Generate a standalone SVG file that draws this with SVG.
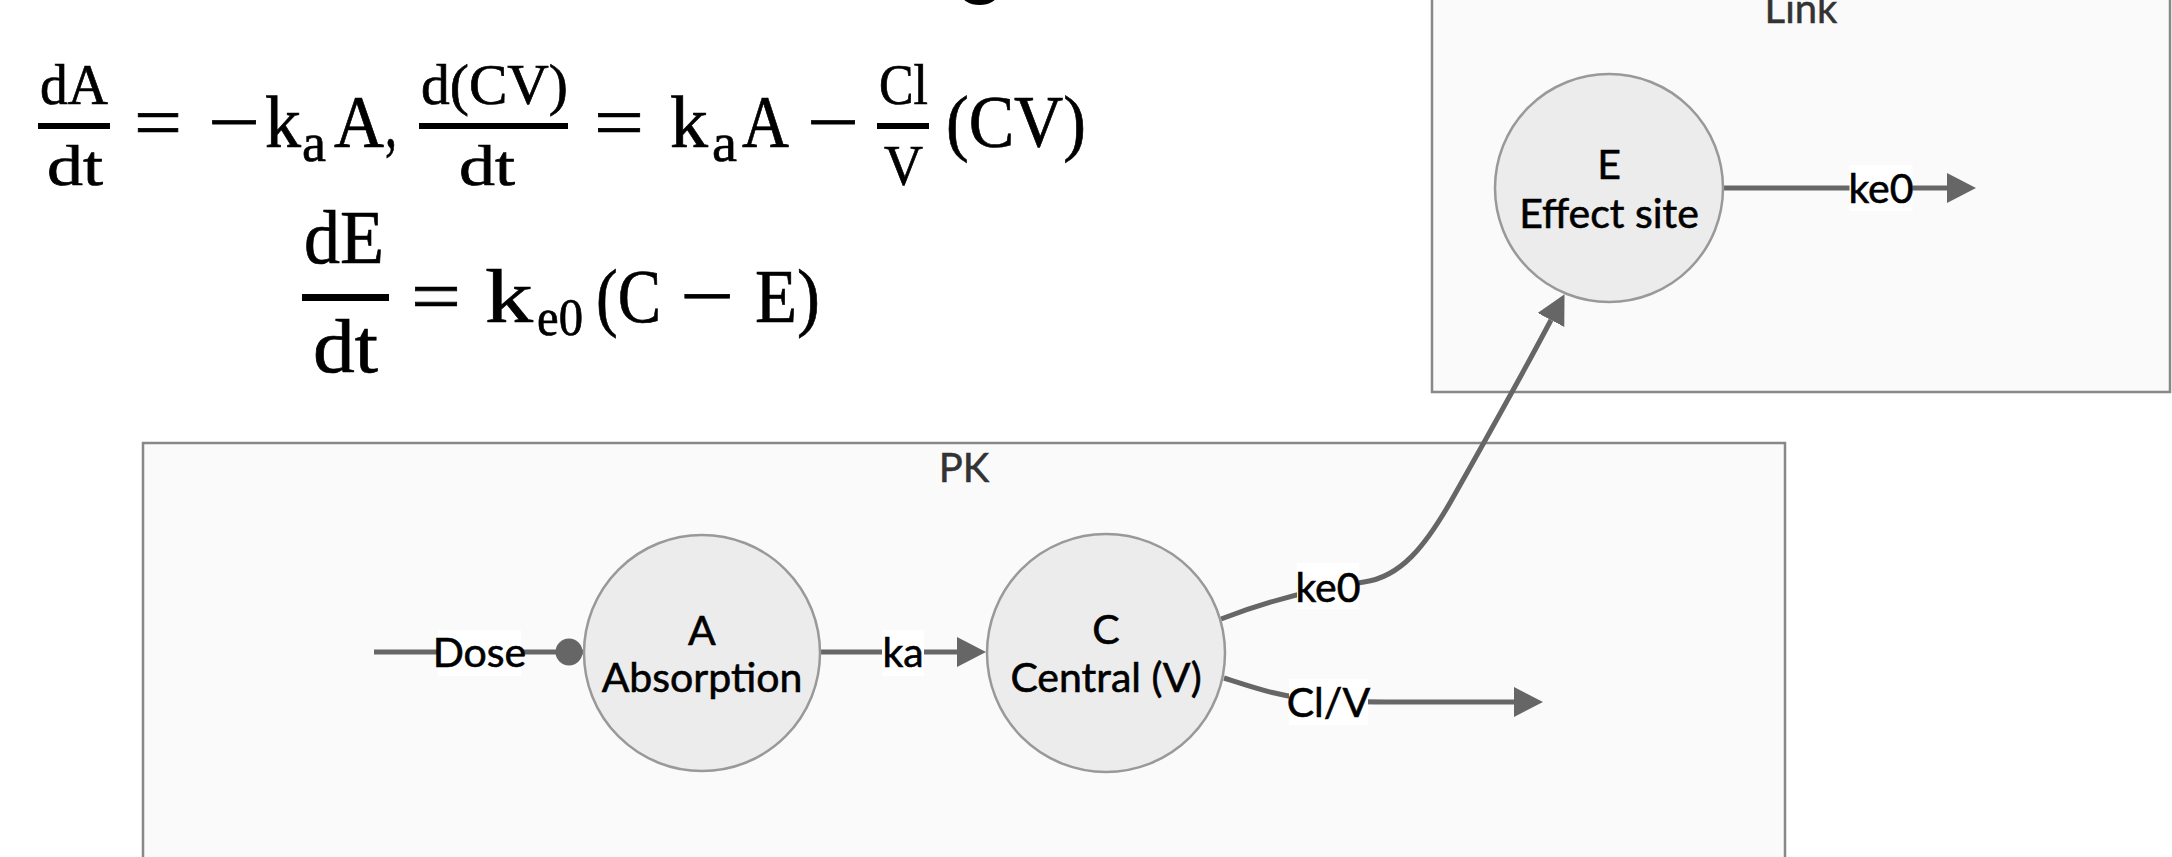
<svg xmlns="http://www.w3.org/2000/svg" width="2172" height="857" viewBox="0 0 2172 857">
<style>
.eq{font-family:"Cambria Math","Liberation Serif",serif;fill:#000;stroke:#000;stroke-width:0.7}
.cl{fill:#fafafa;stroke:#888;stroke-width:2.5}
.ct{font-family:"Trebuchet MS",Lato,"Liberation Sans",sans-serif;font-size:40px;fill:#333;text-anchor:middle;stroke:#333;stroke-width:0.5}
.nd{fill:#ececec;stroke:#999;stroke-width:2.5}
.nt{font-family:"Trebuchet MS",Lato,"Liberation Sans",sans-serif;font-size:41px;fill:#000;text-anchor:middle;stroke:#000;stroke-width:0.6}
.ln{fill:none;stroke:#666;stroke-width:5}
.lb{fill:#fff}
.bar{fill:#000}
</style>
<defs>
<marker id="arrow" viewBox="0 0 29 30" refX="0" refY="15" markerWidth="29" markerHeight="30" markerUnits="userSpaceOnUse" orient="auto">
<path d="M0,0 L29,15 L0,30 z" fill="#666"/>
</marker>
<marker id="dot" viewBox="0 0 28 28" refX="28" refY="14" markerWidth="28" markerHeight="28" markerUnits="userSpaceOnUse" orient="auto">
<circle cx="14" cy="14" r="13.5" fill="#666"/>
</marker>
</defs>
<rect width="2172" height="857" fill="#fff"/>
<ellipse cx="979.5" cy="-6" rx="18" ry="11" fill="#000"/>
<g id="equations">
<text class="eq" x="40" y="104" font-size="56" textLength="68" lengthAdjust="spacingAndGlyphs">dA</text>
<rect class="bar" x="38" y="123" width="72" height="6"/>
<text class="eq" x="47" y="185" font-size="56" textLength="56" lengthAdjust="spacingAndGlyphs">dt</text>
<text class="eq" x="134" y="147" font-size="74" textLength="48" lengthAdjust="spacingAndGlyphs">=</text>
<text class="eq" x="208" y="147" font-size="74" textLength="52" lengthAdjust="spacingAndGlyphs">−</text>
<text class="eq" x="265" y="147" font-size="74" textLength="36" lengthAdjust="spacingAndGlyphs">k</text>
<text class="eq" x="302" y="161" font-size="54" textLength="24" lengthAdjust="spacingAndGlyphs">a</text>
<text class="eq" x="334" y="147" font-size="74" textLength="50" lengthAdjust="spacingAndGlyphs">A</text>
<text class="eq" x="385" y="147" font-size="74" textLength="12" lengthAdjust="spacingAndGlyphs">,</text>
<text class="eq" x="421" y="104" font-size="56" textLength="147" lengthAdjust="spacingAndGlyphs">d(CV)</text>
<rect class="bar" x="419" y="123" width="149" height="6"/>
<text class="eq" x="459" y="185" font-size="56" textLength="56" lengthAdjust="spacingAndGlyphs">dt</text>
<text class="eq" x="594" y="147" font-size="74" textLength="50" lengthAdjust="spacingAndGlyphs">=</text>
<text class="eq" x="670" y="147" font-size="74" textLength="38" lengthAdjust="spacingAndGlyphs">k</text>
<text class="eq" x="712" y="161" font-size="54" textLength="25" lengthAdjust="spacingAndGlyphs">a</text>
<text class="eq" x="742" y="147" font-size="74" textLength="47" lengthAdjust="spacingAndGlyphs">A</text>
<text class="eq" x="807" y="147" font-size="74" textLength="52" lengthAdjust="spacingAndGlyphs">−</text>
<text class="eq" x="879" y="104" font-size="56" textLength="49" lengthAdjust="spacingAndGlyphs">Cl</text>
<rect class="bar" x="877" y="123" width="52" height="6"/>
<text class="eq" x="884" y="185" font-size="56" textLength="39" lengthAdjust="spacingAndGlyphs">V</text>
<text class="eq" x="946" y="147" font-size="74" textLength="140" lengthAdjust="spacingAndGlyphs">(CV)</text>
<text class="eq" x="304" y="263" font-size="77" textLength="80" lengthAdjust="spacingAndGlyphs">dE</text>
<rect class="bar" x="302" y="294" width="87" height="7"/>
<text class="eq" x="313" y="372" font-size="77" textLength="65" lengthAdjust="spacingAndGlyphs">dt</text>
<text class="eq" x="411" y="322" font-size="77" textLength="50" lengthAdjust="spacingAndGlyphs">=</text>
<text class="eq" x="485" y="322" font-size="77" textLength="48" lengthAdjust="spacingAndGlyphs">k</text>
<text class="eq" x="537" y="335" font-size="52" textLength="46" lengthAdjust="spacingAndGlyphs">e0</text>
<text class="eq" x="596" y="322" font-size="77" textLength="65" lengthAdjust="spacingAndGlyphs">(C</text>
<text class="eq" x="680" y="322" font-size="77" textLength="54" lengthAdjust="spacingAndGlyphs">−</text>
<text class="eq" x="755" y="322" font-size="77" textLength="65" lengthAdjust="spacingAndGlyphs">E)</text>
</g>
<g id="cluster-link">
<rect class="cl" x="1432" y="-50" width="738" height="442"/>
<text class="ct" x="1801" y="23">Link</text>
</g>
<g id="cluster-pk">
<rect class="cl" x="143" y="443" width="1642" height="460"/>
<text class="ct" x="964" y="482">PK</text>
</g>
<g id="connectors">
<path class="ln" d="M374,652 L583,652" marker-end="url(#dot)"/>
<path class="ln" d="M820,652 L957,652" marker-end="url(#arrow)"/>
<path class="ln" d="M1221,619 C1270,600 1320,588 1364,582 C1400,577 1425,548 1455,494 C1490,432 1532,356 1551,320" marker-end="url(#arrow)"/>
<path class="ln" d="M1224,678 C1255,688 1280,697 1320,700 C1345,702 1370,702 1400,702 L1514,702" marker-end="url(#arrow)"/>
<path class="ln" d="M1722,188 L1947,188" marker-end="url(#arrow)"/>
<g id="label-dose"><rect class="lb" x="438" y="630" width="83" height="46"/><text class="nt" x="479.5" y="667">Dose</text></g>
<g id="label-ka"><rect class="lb" x="882" y="630" width="42" height="46"/><text class="nt" x="903" y="667">ka</text></g>
<g id="label-ke0-ce"><rect class="lb" x="1297" y="563" width="62" height="46"/><text class="nt" x="1328" y="602">ke0</text></g>
<g id="label-clv"><rect class="lb" x="1289" y="679" width="79" height="46"/><text class="nt" x="1328.5" y="717">Cl/V</text></g>
<g id="label-ke0-out"><rect class="lb" x="1849.5" y="165" width="63" height="46"/><text class="nt" x="1881" y="203">ke0</text></g>
</g>
<g id="node-A">
<circle class="nd" cx="702" cy="653" r="118"/>
<text class="nt" x="702" y="645">A</text>
<text class="nt" x="702" y="692">Absorption</text>
</g>
<g id="node-C">
<circle class="nd" cx="1106" cy="653" r="119"/>
<text class="nt" x="1106" y="644">C</text>
<text class="nt" x="1106" y="692">Central (V)</text>
</g>
<g id="node-E">
<circle class="nd" cx="1609" cy="188" r="114"/>
<text class="nt" x="1609" y="179">E</text>
<text class="nt" x="1609" y="228">Effect site</text>
</g>
</svg>
